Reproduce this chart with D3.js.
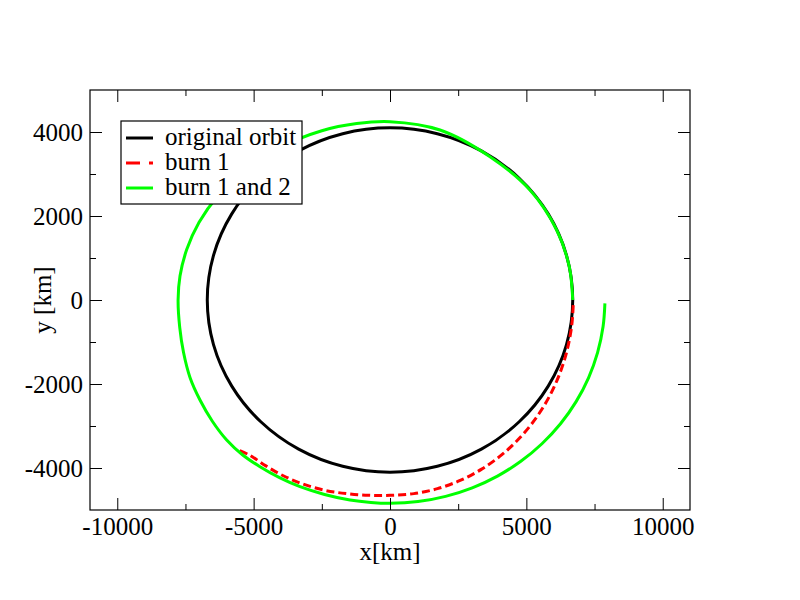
<!DOCTYPE html>
<meta charset="utf-8">
<script src="https://d3js.org/d3.v7.min.js"></script>
<style>
  body { margin: 0; background: #fff; }
  text { font-family: "Liberation Serif", "Times New Roman", serif; }
</style>
<div id="my_dataviz"></div>
<script>
// orbit points (km)
var orbitX = [6700, 6472, 5802, 4737, 3350, 1735, 0, -1735, -3350, -4737, -5802, -6472, -6700,
              -6472, -5802, -4737, -3350, -1735, 0, 1735, 3350, 4737, 5802, 6472];
var orbitY = [0, 1062, 2050, 2899, 3551, 3960, 4100, 3960, 3551, 2899, 2050, 1062, 0,
              -1062, -2050, -2899, -3551, -3960, -4100, -3960, -3551, -2899, -2050, -1062];

var burn1X = [6718, 6663, 6491, 6208, 5820, 5331, 4752, 4091, 3360, 2572, 1739, 877, 0,
              -800, -1600, -2400, -3200, -3912, -4550, -5133, -5600];
var burn1Y = [-122, -607, -1203, -1779, -2325, -2831, -3288, -3689, -4027, -4296, -4492, -4610, -4650,
              -4650, -4610, -4530, -4380, -4185, -3950, -3700, -3560];

var burn2X = [6700, 6573, 6112, 5133, 3667, 1833, 0, -1221, -2500, -4000, -5300, -6300, -7000, -7454, -7700, -7770,
              -7710, -7570, -7330, -6967, -6520, -5988, -5400, -4767, -4050, -3300, -2400, -1467, -700, 0,
              1028, 2039, 3016, 3940, 4797, 5572, 6252, 6824, 7280, 7611, 7813, 7880];
var burn2Y = [0, 793, 1667, 2619, 3412, 4048, 4245, 4200, 4030, 3640, 3108, 2490, 1850, 1200, 570, 0,
              -650, -1250, -1850, -2381, -2880, -3333, -3690, -3969, -4230, -4445, -4630, -4762, -4820, -4840,
              -4799, -4675, -4472, -4192, -3840, -3422, -2946, -2420, -1852, -1253, -632, -79];

var xMajor = [-10000, -5000, 0, 5000, 10000];
var xMinor = [-7500, -2500, 2500, 7500];
var yMajor = [-4000, -2000, 0, 2000, 4000];
var yMinor = [-3000, -1000, 1000, 3000];

var legendLabels = ["original orbit", "burn 1", "burn 1 and 2"];
var legendColors = ["#000000", "#ff0000", "#00ff00"];

// set the dimensions and margins of the graph
var margin = {top: 90, right: 110, bottom: 90, left: 90},
    width = 800 - margin.left - margin.right,
    height = 600 - margin.top - margin.bottom;

var svg = d3.select("#my_dataviz")
  .append("svg")
    .attr("width", 800)
    .attr("height", 600)
  .append("g")
    .attr("transform", "translate(" + margin.left + "," + margin.top + ")");

var x = d3.scaleLinear().domain([-11000, 11000]).range([0, width]);
var y = d3.scaleLinear().domain([-5000, 5000]).range([height, 0]);

// curves
var line = d3.line()
  .x(function(d) { return x(d[0]); })
  .y(function(d) { return y(d[1]); });

var orbit = d3.zip(orbitX, orbitY);
var burn1 = d3.zip(burn1X, burn1Y);
var burn2 = d3.zip(burn2X, burn2Y);

svg.append("path")
  .attr("d", line.curve(d3.curveCatmullRomClosed)(orbit))
  .attr("fill", "none").attr("stroke", legendColors[0]).attr("stroke-width", 3);

svg.append("path")
  .attr("d", line.curve(d3.curveCatmullRom)(burn1))
  .attr("fill", "none").attr("stroke", legendColors[1]).attr("stroke-width", 3)
  .attr("stroke-dasharray", "8,4");

svg.append("path")
  .attr("d", line.curve(d3.curveCatmullRom)(burn2))
  .attr("fill", "none").attr("stroke", legendColors[2]).attr("stroke-width", 3);

// axes, ticks pointing inwards
var fs = 25;
function styleAxis(g) {
  g.select(".domain").remove();
  g.selectAll("line").attr("stroke", "#000");
  g.selectAll("text").attr("font-size", fs).attr("fill", "#000");
}

svg.append("g").attr("transform", "translate(0," + height + ")")
  .call(d3.axisBottom(x).tickValues(xMajor).tickSize(-12).tickPadding(7).tickFormat(d3.format("d")))
  .call(styleAxis);
svg.append("g").attr("transform", "translate(0," + height + ")")
  .call(d3.axisBottom(x).tickValues(xMinor).tickSize(-6).tickFormat(""))
  .call(styleAxis);
svg.append("g")
  .call(d3.axisTop(x).tickValues(xMajor).tickSize(-12).tickFormat(""))
  .call(styleAxis);
svg.append("g")
  .call(d3.axisTop(x).tickValues(xMinor).tickSize(-6).tickFormat(""))
  .call(styleAxis);

svg.append("g")
  .call(d3.axisLeft(y).tickValues(yMajor).tickSize(-12).tickPadding(7).tickFormat(d3.format("d")))
  .call(styleAxis);
svg.append("g")
  .call(d3.axisLeft(y).tickValues(yMinor).tickSize(-6).tickFormat(""))
  .call(styleAxis);
svg.append("g").attr("transform", "translate(" + width + ",0)")
  .call(d3.axisRight(y).tickValues(yMajor).tickSize(-12).tickFormat(""))
  .call(styleAxis);
svg.append("g").attr("transform", "translate(" + width + ",0)")
  .call(d3.axisRight(y).tickValues(yMinor).tickSize(-6).tickFormat(""))
  .call(styleAxis);

// plain hyphen for negative labels, like the reference
svg.selectAll("text").text(function() { return this.textContent.replace("\u2212", "-"); });

// frame
svg.append("rect")
  .attr("x", 0).attr("y", 0).attr("width", width).attr("height", height)
  .attr("fill", "none").attr("stroke", "#000").attr("stroke-width", 1.2);

// axis titles
svg.append("text")
  .attr("x", width / 2).attr("y", height + 50)
  .attr("text-anchor", "middle").attr("font-size", fs)
  .text("x[km]");
svg.append("text")
  .attr("transform", "translate(-39," + (height / 2) + ")rotate(-90)")
  .attr("text-anchor", "middle").attr("font-size", fs)
  .text("y [km]");

// legend
var legend = svg.append("g").attr("transform", "translate(31,31)");
legend.append("rect")
  .attr("width", 181).attr("height", 83)
  .attr("fill", "#fff").attr("stroke", "#000").attr("stroke-width", 1.2);

var rows = legend.selectAll("g.row")
  .data(legendLabels)
  .enter().append("g")
    .attr("transform", function(d, i) { return "translate(0," + (17 + i * 25) + ")"; });
rows.append("line")
  .attr("x1", 5).attr("x2", 32).attr("y1", 0).attr("y2", 0)
  .attr("stroke", function(d, i) { return legendColors[i]; })
  .attr("stroke-width", 3)
  .attr("stroke-dasharray", function(d, i) { return i === 1 ? "14,9" : null; });
rows.append("text")
  .attr("x", 44).attr("y", 7)
  .attr("font-size", fs)
  .text(function(d) { return d; });
</script>
